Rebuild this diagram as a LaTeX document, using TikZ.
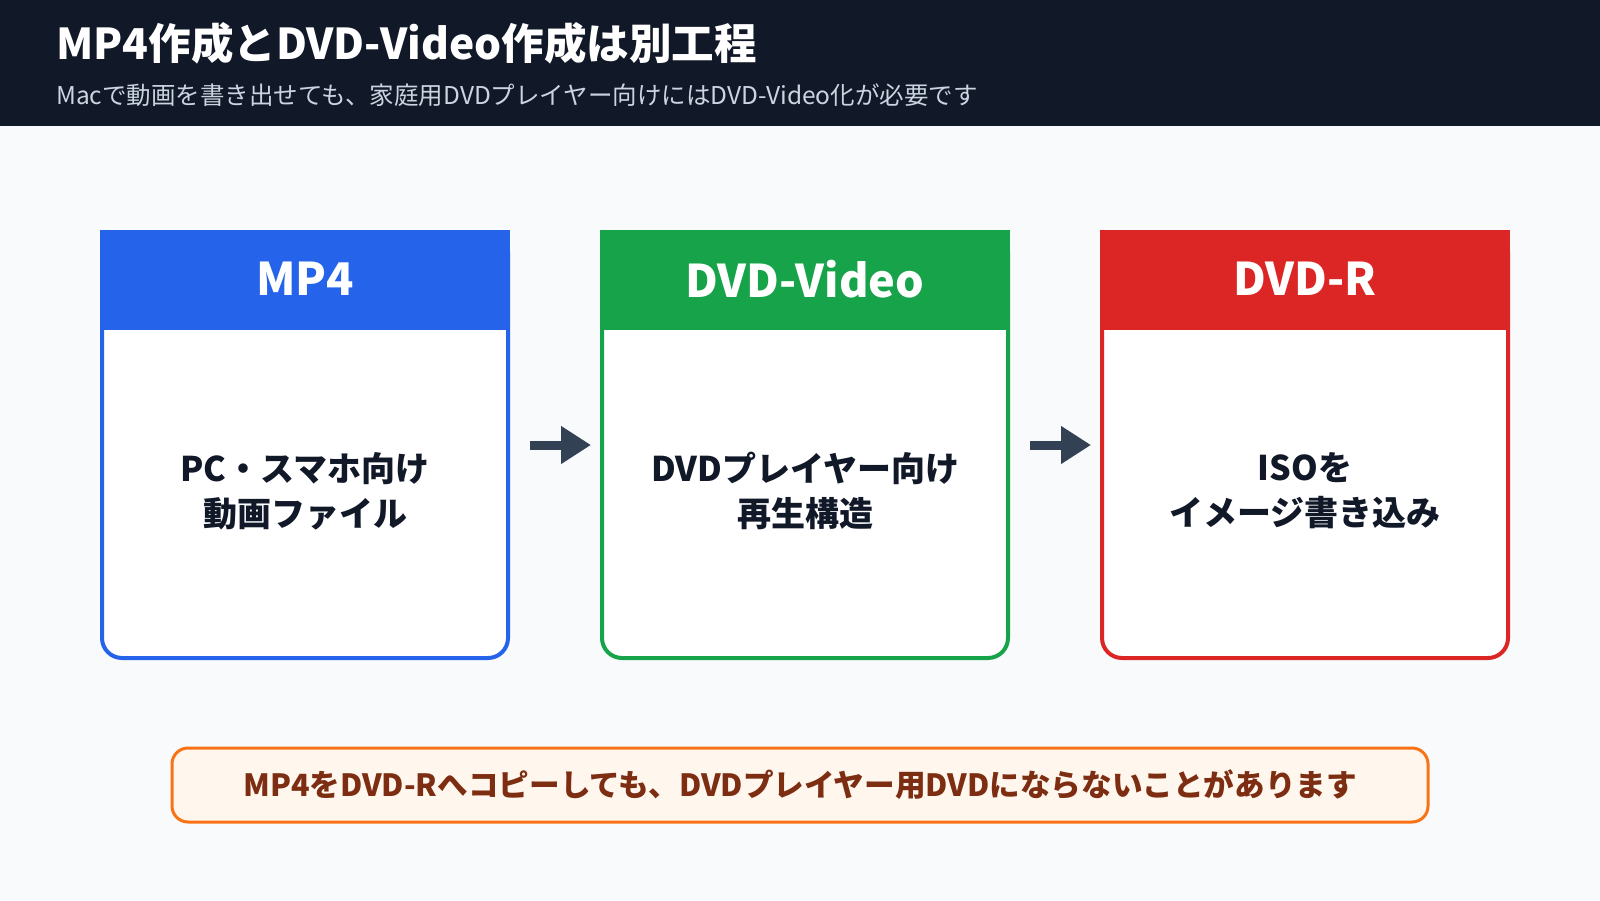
\documentclass[tikz,border=0pt]{standalone}
\usepackage{fontspec}
\setmainfont{Noto Sans CJK JP}
\usetikzlibrary{arrows.meta}
\definecolor{hdr}{HTML}{111827}
\definecolor{bgc}{HTML}{F8FAFC}
\definecolor{subc}{HTML}{CBD5E1}
\definecolor{cblue}{HTML}{2563EB}
\definecolor{cgreen}{HTML}{16A34A}
\definecolor{cred}{HTML}{DC2626}
\definecolor{ink}{HTML}{111827}
\definecolor{arrc}{HTML}{334155}
\definecolor{nbord}{HTML}{F97316}
\definecolor{nfill}{HTML}{FFF7ED}
\definecolor{ntext}{HTML}{7C2D12}
\tikzset{
  card/.style={draw=#1, fill=white, line width=4pt, rounded corners=20pt,
    minimum width=406pt, minimum height=426pt, inner sep=0pt},
  cardtitle/.style={text=white, font=\fontsize{45}{50}\selectfont\bfseries, inner sep=0pt},
  cardbody/.style={text=ink, font=\fontsize{34}{45}\selectfont\bfseries, align=center, inner sep=0pt},
  flowarrow/.style={draw=arrc, line width=9pt, -{Triangle[length=30pt,width=36pt]}},
}
\begin{document}
\begin{tikzpicture}[x=1pt,y=-1pt]
\useasboundingbox (0,0) rectangle (1600,900);
\fill[bgc] (0,0) rectangle (1600,900);
\fill[hdr] (0,0) rectangle (1600,126);
\node[anchor=west, text=white, inner sep=0pt, font=\fontsize{42.5}{50}\selectfont\bfseries] (title) at (56,43) {MP4作成とDVD-Video作成は別工程};
\node[anchor=west, text=subc, inner sep=0pt, font=\fontsize{24.5}{28}\selectfont] (sub) at (56,95) {Macで動画を書き出せても、家庭用DVDプレイヤー向けにはDVD-Video化が必要です};

% cards
\node[card=cblue] (mp4) at (305,445) {};
\node[card=cgreen] (dvdv) at (805,445) {};
\node[card=cred] (dvdr) at (1305,445) {};
\foreach \n/\c in {mp4/cblue, dvdv/cgreen, dvdr/cred}{
  \fill[\c] (\n.north west) rectangle ([yshift=-100pt]\n.north east);
}
\node[cardtitle] (mp4t) at (305,279) {MP4};
\node[cardtitle] (dvdvt) at (805,279) {DVD-Video};
\node[cardtitle] (dvdrt) at (1305,279) {DVD-R};

\node[cardbody] (mp4b) at (305,491) {PC・スマホ向け\\動画ファイル};
\node[cardbody] (dvdvb) at (805,491) {DVDプレイヤー向け\\再生構造};
\node[cardbody] (dvdrb) at (1305,491) {ISOを\\イメージ書き込み};

% arrows
\draw[flowarrow] ([xshift=20pt]mp4.east) -- ([xshift=-9pt]dvdv.west);
\draw[flowarrow] ([xshift=20pt]dvdv.east) -- ([xshift=-9pt]dvdr.west);

% note
\node[draw=nbord, fill=nfill, line width=3pt, rounded corners=16pt,
  minimum width=1256pt, minimum height=74pt, inner sep=0pt,
  text=ntext, font=\fontsize{30.6}{34}\selectfont\bfseries] (note) at (800,785)
  {MP4をDVD-Rへコピーしても、DVDプレイヤー用DVDにならないことがあります};
\end{tikzpicture}
\end{document}
